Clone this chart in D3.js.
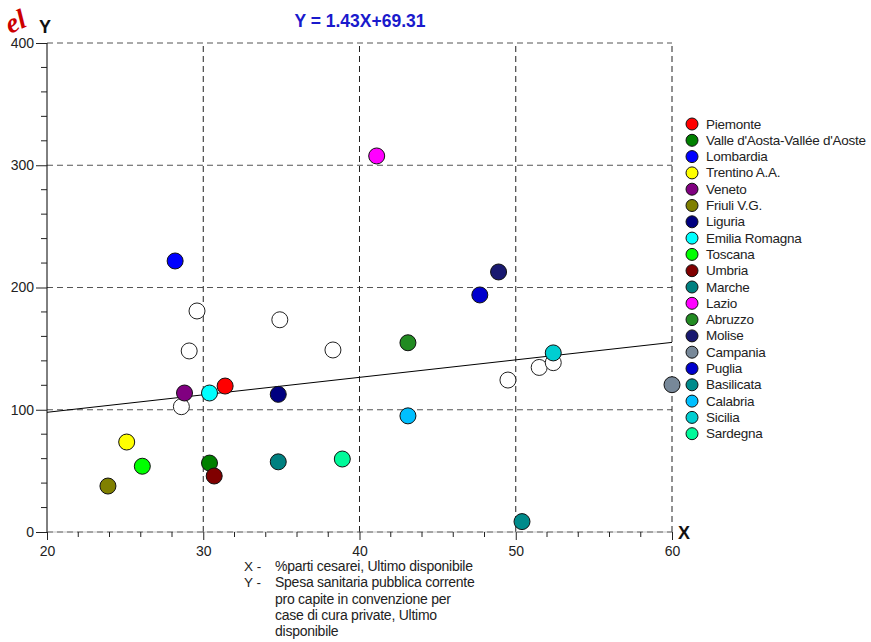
<!DOCTYPE html>
<html><head><meta charset="utf-8">
<script src="https://cdn.jsdelivr.net/npm/d3@7/dist/d3.min.js"></script>
<style>
body{margin:0;background:#fff;}
svg{display:block;font-family:"Liberation Sans",Arial,sans-serif;}
</style></head>
<body>
<svg id="chart" width="871" height="642"></svg>
<script>
const regions = ["Piemonte","Valle d'Aosta-Vallée d'Aoste","Lombardia","Trentino A.A.","Veneto","Friuli V.G.","Liguria","Emilia Romagna","Toscana","Umbria","Marche","Lazio","Abruzzo","Molise","Campania","Puglia","Basilicata","Calabria","Sicilia","Sardegna"];
const xValues = [31.4, 30.4, 28.2, 25.1, 28.8, 23.9, 34.8, 30.4, 26.1, 30.7, 34.8, 41.1, 43.1, 48.9, 60.0, 47.7, 50.4, 43.1, 52.4, 38.9];
const yValues = [119.4, 56.4, 221.7, 73.6, 113.7, 37.6, 112.6, 113.7, 53.8, 45.8, 57.4, 307.6, 154.8, 212.7, 120.5, 193.9, 8.5, 95.0, 146.5, 59.7];
const palette = ["#ff0000","#008000","#0000ff","#ffff00","#800080","#808000","#000080","#00ffff","#00ff00","#800000","#008080","#ff00ff","#228b22","#191970","#778899","#0000cd","#008b8b","#00bfff","#00ced1","#00fa9a"];
const otherX = [29.6, 34.9, 29.1, 38.3, 28.6, 49.5, 51.5, 52.4];
const otherY = [180.8, 173.6, 148.1, 148.9, 102.5, 124.3, 134.6, 138.5];
const slope = 1.43, intercept = 69.31;
const titleText = "Y = 1.43X+69.31";
const xTicks = [20, 30, 40, 50, 60];
const yTicks = [0, 100, 200, 300, 400];
const noteLabels = ["X -", "Y -"];
const noteLines = [["%parti cesarei, Ultimo disponibile"], ["Spesa sanitaria pubblica corrente", "pro capite in convenzione per", "case di cura private, Ultimo", "disponibile"]];
const watermark = "el";

const svg = d3.select("#chart");
const x = d3.scaleLinear().domain([20, 60]).range([47, 672]);
const y = d3.scaleLinear().domain([0, 400]).range([532, 43]);
const color = d3.scaleOrdinal().domain(regions).range(palette);

// watermark fragment
svg.append("text").attr("transform", "translate(10,34) rotate(-24)")
  .attr("font-family", "Liberation Serif, serif").attr("font-weight", "bold").attr("font-style", "italic")
  .attr("font-size", 28).attr("fill", "#cc0000").text(watermark);

// grid
const g = svg.append("g");
g.selectAll(".hg").data(yTicks).join("line")
  .attr("x1", x(20)).attr("x2", x(60)).attr("y1", d => y(d)).attr("y2", d => y(d))
  .attr("stroke", "#555").attr("stroke-width", 1).attr("stroke-dasharray", "6,4");
g.selectAll(".vg").data(xTicks.slice(1)).join("line")
  .attr("y1", y(0)).attr("y2", y(400)).attr("x1", d => x(d)).attr("x2", d => x(d))
  .attr("stroke", "#222").attr("stroke-width", 1).attr("stroke-dasharray", "6,4");

// axes
const yAxis = d3.axisLeft(y).tickValues(yTicks).tickSize(11).tickPadding(2);
const ya = svg.append("g").attr("transform", `translate(${x(20)},0)`).call(yAxis);
ya.selectAll(".tick line").attr("stroke", "#222");
ya.select(".domain").attr("stroke", "#000").attr("d", `M0,${y(0)}V${y(400)}`);
ya.selectAll("text").attr("font-size", 14).attr("fill", "#222").attr("font-family", "Liberation Sans, Arial, sans-serif");
const yMinor = d3.range(0, 401, 20).filter(v => v % 100 !== 0);
svg.append("g").selectAll("line").data(yMinor).join("line")
  .attr("x1", x(20) - 6).attr("x2", x(20)).attr("y1", d => y(d)).attr("y2", d => y(d)).attr("stroke", "#222");

const xAxis = d3.axisBottom(x).tickValues(xTicks).tickSize(8).tickPadding(6);
const xa = svg.append("g").attr("transform", `translate(0,${y(0)})`).call(xAxis);
xa.select(".domain").attr("stroke", "#999").attr("stroke-width", 0.6).attr("d", `M${x(20)},0H${x(60)}`);
xa.selectAll(".tick line").attr("stroke", "#222");
xa.selectAll("text").attr("font-size", 14).attr("fill", "#222").attr("font-family", "Liberation Sans, Arial, sans-serif");
const xMinor = d3.range(20, 61, 2).filter(v => v % 10 !== 0);
svg.append("g").selectAll("line").data(xMinor).join("line")
  .attr("y1", y(0)).attr("y2", y(0) + 5).attr("x1", d => x(d)).attr("x2", d => x(d)).attr("stroke", "#222");

// axis letters
svg.append("text").attr("x", 45).attr("y", 33).attr("text-anchor", "middle").attr("font-weight", "bold").attr("font-size", 18).attr("fill", "#111").text("Y");
svg.append("text").attr("x", 678).attr("y", 539).attr("font-weight", "bold").attr("font-size", 18).attr("fill", "#111").text("X");

// title
svg.append("text").attr("x", 360).attr("y", 27).attr("text-anchor", "middle").attr("font-weight", "bold").attr("font-size", 17.5).attr("fill", "#1a1acc").text(titleText);

// regression line
svg.append("line").attr("x1", x(20)).attr("x2", x(60))
  .attr("y1", y(intercept + slope * 20)).attr("y2", y(intercept + slope * 60))
  .attr("stroke", "#000").attr("stroke-width", 1);

// unlabelled points
svg.append("g").selectAll("circle").data(otherX.map((v, i) => [v, otherY[i]])).join("circle")
  .attr("cx", d => x(d[0])).attr("cy", d => y(d[1])).attr("r", 8)
  .attr("fill", "#fff").attr("stroke", "#222").attr("stroke-width", 1);

// region points
svg.append("g").selectAll("circle").data(regions).join("circle")
  .attr("cx", (d, i) => x(xValues[i])).attr("cy", (d, i) => y(yValues[i])).attr("r", 8)
  .attr("fill", d => color(d)).attr("stroke", "#111").attr("stroke-width", 1);

// legend
const lg = svg.append("g").selectAll("g").data(regions).join("g")
  .attr("transform", (d, i) => `translate(692,${124 + i * 16.3})`);
lg.append("circle").attr("r", 6).attr("fill", d => color(d)).attr("stroke", "#111").attr("stroke-width", 1);
lg.append("text").attr("x", 14).attr("y", 4.5).attr("font-size", 13.5).attr("fill", "#222").attr("letter-spacing", -0.25).text(d => d);

// notes
const notes = svg.append("g");
let ly = 571;
noteLabels.forEach((lab, k) => {
  notes.append("text").attr("x", 244).attr("y", ly).attr("font-size", 13.5).attr("fill", "#222").text(lab);
  noteLines[k].forEach(t => {
    notes.append("text").attr("x", 275).attr("y", ly).attr("font-size", 14).attr("fill", "#222").attr("letter-spacing", -0.25).text(t);
    ly += 16.3;
  });
});
</script>
</body></html>
